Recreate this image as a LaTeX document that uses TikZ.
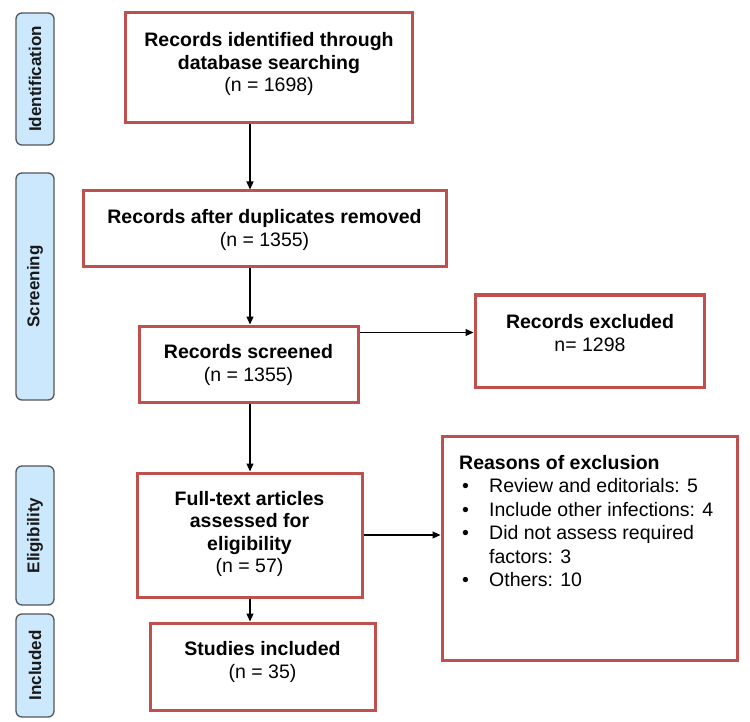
\documentclass[tikz,border=0pt]{standalone}
\usepackage{fontspec}
\setmainfont{Liberation Sans}
\usetikzlibrary{arrows.meta,positioning}
\definecolor{frame}{RGB}{192,80,77}
\definecolor{phasefill}{RGB}{204,232,252}
\definecolor{phaseline}{RGB}{85,85,90}
\begin{document}
\begin{tikzpicture}[x=1pt,y=-1pt,
  flowbox/.style={draw=frame,line width=3pt,fill=white,rectangle,inner sep=0pt},
  flowtext/.style={align=center,font=\fontsize{19.5}{22.5}\selectfont,inner sep=0pt},
  phase/.style={draw=phaseline,line width=1.3pt,fill=phasefill,rounded corners=6pt,
    rectangle,inner sep=0pt,minimum width=38pt},
  phasetext/.style={rotate=90,font=\bfseries\fontsize{17}{19}\selectfont,text=black!90,inner sep=0pt},
  link/.style={draw=black,line width=1.1pt,-{Triangle[length=8pt,width=7pt]}}]
\useasboundingbox (0,0) rectangle (750,722);

% phase bars on the left
\node[phase,minimum height=132pt] (pid) at (35,79) {};
\node[phasetext] (tid) at (pid) {Identification};
\node[phase,minimum height=227pt] (psc) at (35,286.5) {};
\node[phasetext] (tsc) at (psc) {Screening};
\node[phase,minimum height=139pt] (pel) at (35,535.5) {};
\node[phasetext] (tel) at (pel) {Eligibility};
\node[phase,minimum height=103pt] (pin) at (35,665.5) {};
\node[phasetext] (tin) at (pin) {Included};

% flow boxes
\node[flowbox,minimum width=287pt,minimum height=110pt] (b1) at (268.5,68) {};
\node[flowtext] (t1) at (269,64) {\textbf{Records identified through}\\\textbf{database searching}\\(n = 1698)};

\node[flowbox,minimum width=363pt,minimum height=76pt] (b2) at (264.5,229) {};
\node[flowtext] (t2) at (264.5,230) {\textbf{Records after duplicates removed}\\(n = 1355)};

\node[flowbox,minimum width=219pt,minimum height=76pt] (b3) at (248.5,364) {};
\node[flowtext] (t3) at (248.5,365) {\textbf{Records screened}\\(n = 1355)};

\node[flowbox,minimum width=229pt,minimum height=92pt] (b3x) at (589.5,341) {};
\node[flowtext] (t3x) at (590,333) {\textbf{Records excluded}\\n= 1298};

\node[flowbox,minimum width=225pt,minimum height=124pt] (b4) at (249.5,535) {};
\node[flowtext] (t4) at (249.5,534) {\textbf{Full-text articles}\\\textbf{assessed for}\\\textbf{eligibility}\\(n = 57)};

\node[flowbox,minimum width=295pt,minimum height=224pt] (b4x) at (589.5,548) {};
\node[anchor=north west,align=left,inner sep=0pt,font=\fontsize{19.5}{23.5}\selectfont] (t4x) at (459,455)
  {\textbf{Reasons of exclusion}\\
   \makebox[30pt][l]{\hspace{3pt}•}Review and editorials: 5\\
   \makebox[30pt][l]{\hspace{3pt}•}Include other infections: 4\\
   \makebox[30pt][l]{\hspace{3pt}•}Did not assess required\\
   \makebox[30pt][l]{}factors: 3\\
   \makebox[30pt][l]{\hspace{3pt}•}Others: 10};

\node[flowbox,minimum width=225pt,minimum height=87pt] (b5) at (262.5,666.5) {};
\node[flowtext] (t5) at (262.5,662) {\textbf{Studies included}\\(n = 35)};

% connectors
\coordinate (spine) at (250,0);
\draw[link] (b1.south -| spine) -- (b2.north -| spine);
\draw[link] (b2.south -| spine) -- (b3.north -| spine);
\draw[link] (b3.south -| spine) -- (b4.north -| spine);
\draw[link] (b4.south -| spine) -- (b5.north -| spine);
\draw[link] ([yshift=-8pt]b3.north east) -- ([yshift=-8pt]b3.north east -| b3x.west);
\draw[link] (b4.east) -- (b4.east -| b4x.west);
\end{tikzpicture}
\end{document}
